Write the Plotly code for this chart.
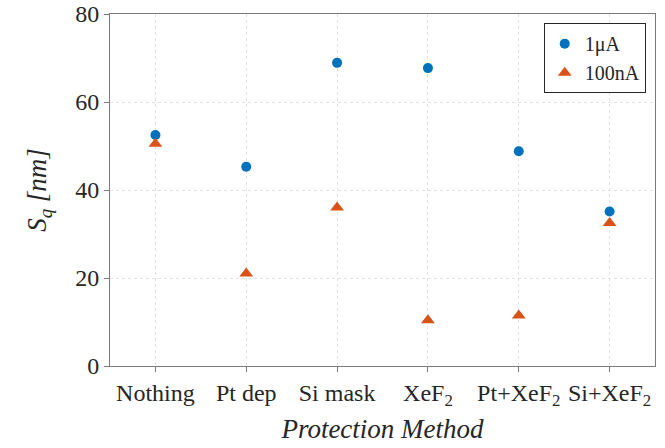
import plotly.graph_objects as go

# Surface roughness per protection method, for two beam currents
methods = ["Nothing", "Pt dep", "Si mask", "XeF<sub>2</sub>", "Pt+XeF<sub>2</sub>", "Si+XeF<sub>2</sub>"]
sq_1uA = [52.5, 45.3, 68.9, 67.7, 48.8, 35.1]
sq_100nA = [50.5, 21.0, 36.0, 10.4, 11.5, 32.5]

FONT = "'Liberation Serif', 'Times New Roman', Times, serif"
TEXT = "#262626"
AXIS_GREY = "#7a7a7a"
GRID_GREY = "#e2e2e2"

fig = go.Figure()
fig.add_trace(go.Scatter(
    x=methods, y=sq_1uA, mode="markers", name="1\u03bcA",
    marker=dict(symbol="circle", size=10, color="#0072BD"),
))
fig.add_trace(go.Scatter(
    x=methods, y=sq_100nA, mode="markers", name="100nA",
    marker=dict(symbol="triangle-up", size=12, color="#D95319"),
))

axis_common = dict(
    showline=True, linecolor=AXIS_GREY, linewidth=1, mirror=True,
    ticks="outside", ticklen=5, tickcolor=AXIS_GREY,
    showgrid=True, gridcolor=GRID_GREY, griddash="dot", gridwidth=1,
    zeroline=False,
    tickfont=dict(family=FONT, size=24, color=TEXT),
)

fig.update_xaxes(
    **axis_common,
    type="category", range=[-0.5, 5.5], automargin="bottom",
    title=dict(text="<i>Protection Method</i>", font=dict(family=FONT, size=27, color=TEXT), standoff=10),
)
fig.update_yaxes(
    **axis_common,
    range=[0, 80], dtick=20, automargin="left",
    title=dict(text="<i>S<sub>q</sub> [nm]</i>", font=dict(family=FONT, size=27, color=TEXT), standoff=20),
)

fig.update_layout(
    width=665, height=448,
    margin=dict(l=110, r=10, t=14, b=82),
    plot_bgcolor="white", paper_bgcolor="white",
    font=dict(family=FONT, color=TEXT),
    legend=dict(
        x=0.983, y=0.974, xanchor="right", yanchor="top",
        bgcolor="white", bordercolor=TEXT, borderwidth=1,
        font=dict(family=FONT, size=20, color=TEXT),
        itemwidth=30, tracegroupgap=0,
    ),
    showlegend=True,
)

fig.write_html("out.html")
